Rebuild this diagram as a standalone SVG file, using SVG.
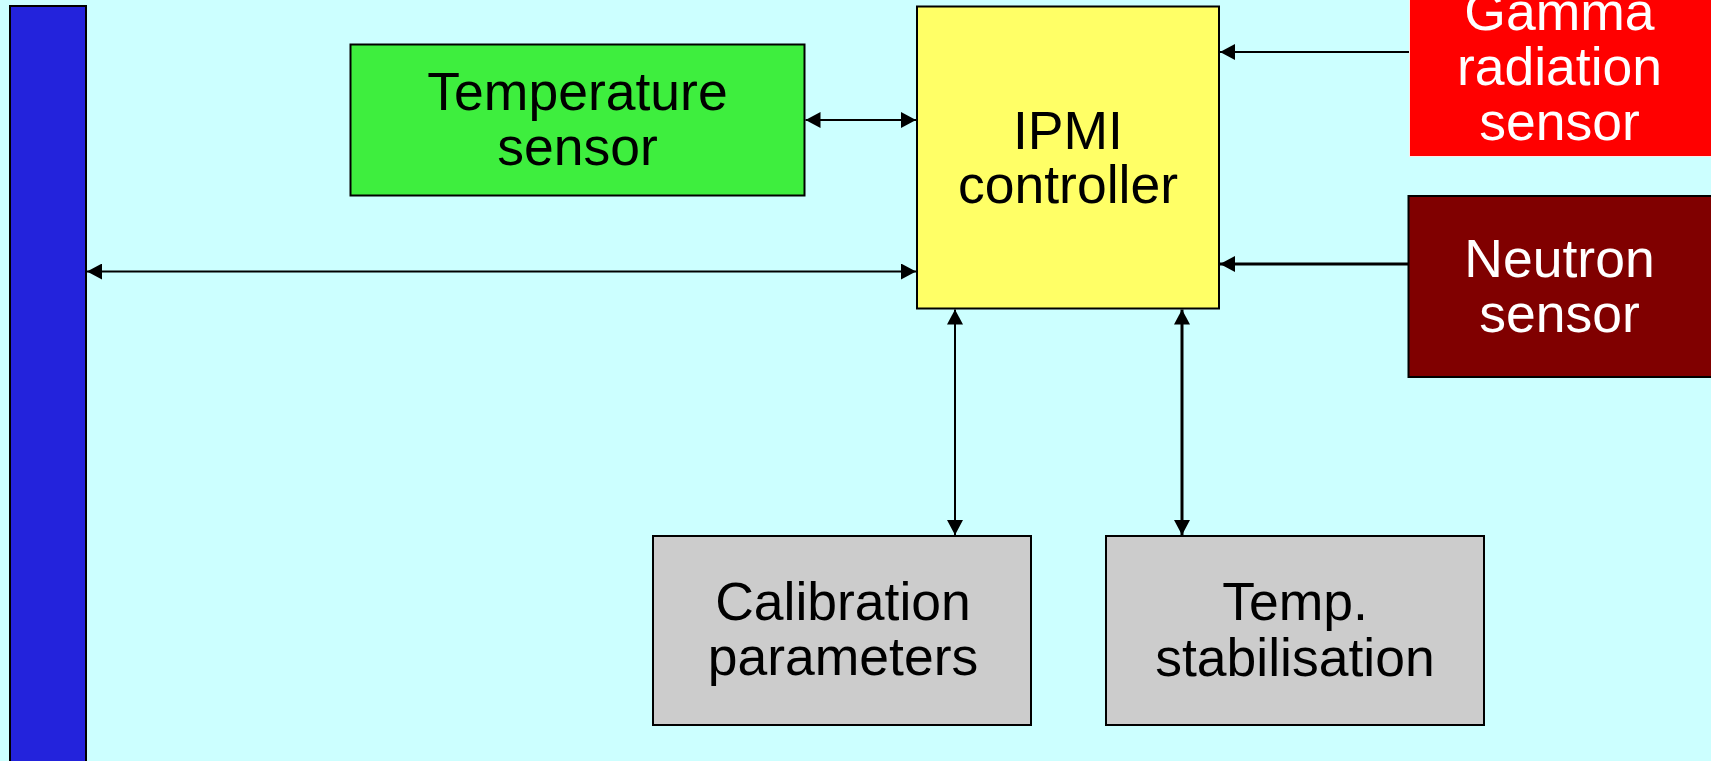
<svg xmlns="http://www.w3.org/2000/svg" width="1711" height="761" viewBox="0 0 1711 761">
<style>
.box{stroke:#000;stroke-width:2}
.t{font-family:"Liberation Sans",Arial,sans-serif;font-size:53.5px;text-anchor:middle;fill:#000}
.w{fill:#fff}
.c{stroke:#000;stroke-width:2;fill:none}
.thick{stroke-width:3}
</style>
<defs>
<marker id="ah" markerUnits="userSpaceOnUse" markerWidth="15" markerHeight="16" refX="15" refY="8" orient="auto-start-reverse" viewBox="0 0 15 16">
<path d="M0,0 L15,8 L0,16 z" fill="#000"/>
</marker>
</defs>
<rect x="0" y="0" width="1711" height="761" fill="#CCFFFF"/>
<g id="bus">
<rect class="box" x="10" y="6" width="76" height="770" fill="#2323DC"/>
</g>
<g id="temperature-sensor">
<rect class="box" x="350.5" y="44.5" width="454" height="151" fill="#3EEE3E"/>
<text class="t" x="577.5" y="110">Temperature</text>
<text class="t" x="577.5" y="165">sensor</text>
</g>
<g id="ipmi-controller">
<rect class="box" x="917" y="6.5" width="302" height="302" fill="#FFFF66"/>
<text class="t" x="1068" y="149">IPMI</text>
<text class="t" x="1068" y="203">controller</text>
</g>
<g id="gamma-sensor">
<rect x="1409.5" y="-10" width="310" height="166.5" fill="#FF0000" stroke="#FFE8E8" stroke-width="1"/>
<text class="t w" x="1559.5" y="30">Gamma</text>
<text class="t w" x="1559.5" y="85">radiation</text>
<text class="t w" x="1559.5" y="140">sensor</text>
</g>
<g id="neutron-sensor">
<rect class="box" x="1408.5" y="196" width="310" height="181" fill="#800000"/>
<text class="t w" x="1559.5" y="276.5">Neutron</text>
<text class="t w" x="1559.5" y="331.5">sensor</text>
</g>
<g id="calibration-parameters">
<rect class="box" x="653" y="536" width="378" height="189" fill="#CCCCCC"/>
<text class="t" x="843" y="620">Calibration</text>
<text class="t" x="843" y="675">parameters</text>
</g>
<g id="temp-stabilisation">
<rect class="box" x="1106" y="536" width="378" height="189" fill="#CCCCCC"/>
<text class="t" x="1295" y="620">Temp.</text>
<text class="t" x="1295" y="676">stabilisation</text>
</g>
<g id="connectors">
<line class="c" x1="87" y1="271.5" x2="916" y2="271.5" marker-start="url(#ah)" marker-end="url(#ah)"/>
<line class="c" x1="805.5" y1="120" x2="916" y2="120" marker-start="url(#ah)" marker-end="url(#ah)"/>
<line class="c" x1="1409" y1="52" x2="1220" y2="52" marker-end="url(#ah)"/>
<line class="c thick" x1="1408" y1="264" x2="1220" y2="264" marker-end="url(#ah)"/>
<line class="c" x1="955" y1="309.5" x2="955" y2="535" marker-start="url(#ah)" marker-end="url(#ah)"/>
<line class="c thick" x1="1182" y1="309.5" x2="1182" y2="535" marker-start="url(#ah)" marker-end="url(#ah)"/>
</g>
</svg>
